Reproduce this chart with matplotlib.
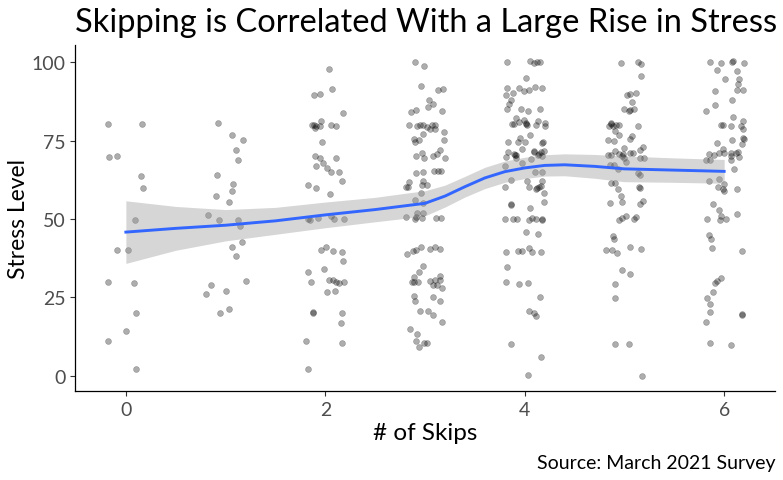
import matplotlib
matplotlib.use("Agg")
import matplotlib.pyplot as plt

plt.rcParams['font.family'] = ['Lato', 'DejaVu Sans']

# jittered points, one group per number of skips
skips0_x = [-0.177, 0.164, -0.174, -0.084, 0.147, 0.171, 0.094, -0.090, 0.020, -0.184, 0.077, 0.104, 0.003, -0.184, 0.100]
skips0_y = [80.3, 80.3, 69.9, 70.1, 63.6, 59.9, 49.8, 40.1, 40.0, 29.9, 29.4, 19.9, 14.1, 10.9, 2.0]

skips1_x = [0.926, 1.064, 1.171, 1.100, 1.120, 0.910, 1.077, 1.060, 0.903, 1.037, 0.819, 0.930,
            1.127, 1.147, 1.161, 1.060, 1.107, 1.201, 0.856, 0.803, 1.007, 1.030, 0.940]
skips1_y = [80.7, 76.9, 75.2, 72.0, 68.8, 63.9, 61.1, 58.9, 57.2, 55.3, 51.3, 49.7,
            49.7, 47.9, 42.6, 41.1, 38.3, 30.1, 28.9, 26.1, 27.0, 21.2, 19.9]

skips2_x = [2.033, 2.067, 1.886, 1.946, 2.174, 1.953, 1.863, 1.890, 1.910, 1.896, 1.950, 2.054,
            2.104, 1.963, 1.900, 1.943, 2.104, 1.973, 1.903, 2.013, 2.054, 2.134, 2.167, 1.826,
            1.910, 2.047, 1.829, 1.849, 1.930, 2.054, 2.084, 2.187, 1.960, 2.007, 2.080, 2.164,
            2.174, 1.823, 1.983, 1.853, 2.040, 2.080, 2.104, 2.134, 2.191, 2.017, 2.100, 1.873,
            1.873, 2.171, 2.161, 1.806, 2.164, 1.829]
skips2_y = [98.0, 91.5, 89.6, 90.0, 83.8, 81.2, 79.9, 79.9, 79.7, 79.2, 79.7, 80.0,
            79.7, 74.7, 70.2, 69.6, 69.6, 67.8, 66.8, 66.2, 65.1, 64.9, 62.0, 60.9,
            59.8, 58.0, 50.1, 49.8, 50.2, 50.8, 49.9, 50.1, 40.1, 41.0, 39.9, 39.6,
            36.6, 33.0, 34.0, 29.9, 30.4, 30.5, 29.9, 29.6, 30.0, 26.8, 26.9, 20.1,
            20.3, 20.1, 16.8, 11.1, 10.3, 2.1]

skips3_x = [2.900, 2.990, 2.957, 3.130, 3.184, 3.040, 3.084, 3.027, 2.856, 2.906, 3.174, 2.843,
            2.916, 2.953, 2.980, 3.023, 3.067, 3.097, 3.054, 3.104, 3.187, 2.977, 2.890, 2.900,
            2.943, 3.187, 2.913, 2.967, 2.990, 3.084, 3.120, 3.147, 3.197, 2.913, 2.983, 3.090,
            3.130, 3.164, 2.839, 2.813, 2.833, 2.980, 2.967, 3.020, 2.963, 2.903, 2.980, 2.920,
            2.980, 2.910, 2.813, 2.896, 2.970, 3.114, 3.164, 2.819, 2.883, 2.910, 2.957, 3.054,
            3.097, 3.151, 2.980, 2.936, 2.893, 2.873, 2.893, 2.926, 3.050, 3.097, 3.124, 3.080,
            3.154, 3.147, 3.171, 2.886, 2.900, 3.084, 3.151, 2.946, 3.033, 3.084, 3.171, 2.849,
            2.916, 2.910, 2.940, 2.993, 3.023]
skips3_y = [100.1, 99.0, 92.5, 91.2, 91.6, 88.0, 86.8, 85.8, 84.2, 84.7, 84.6, 79.9,
            79.7, 80.1, 80.0, 79.5, 79.9, 80.0, 78.8, 78.7, 77.8, 77.2, 75.4, 74.7,
            75.1, 75.1, 70.2, 71.2, 69.5, 70.0, 70.8, 72.1, 69.6, 64.6, 64.9, 65.2,
            65.2, 65.2, 61.9, 60.1, 60.2, 62.2, 60.8, 60.8, 58.2, 55.9, 55.1, 51.8,
            52.0, 50.6, 50.6, 50.0, 50.3, 50.2, 50.2, 38.7, 39.7, 40.0, 41.1, 40.3,
            41.1, 40.4, 35.1, 33.1, 31.4, 29.8, 29.8, 29.9, 30.1, 30.4, 28.9, 28.8,
            31.8, 30.4, 28.0, 25.5, 23.7, 25.1, 23.9, 20.5, 20.5, 19.3, 17.0, 14.9,
            13.3, 11.0, 9.2, 10.3, 10.5]

skips4_x = [3.826, 4.054, 4.094, 4.127, 4.154, 4.010, 3.823, 3.943, 3.997, 4.043, 4.104, 4.177,
            3.883, 3.816, 3.866, 3.843, 3.826, 3.963, 4.030, 4.154, 3.910, 3.997, 3.870, 3.896,
            3.943, 4.013, 4.023, 4.017, 4.117, 4.137, 4.204, 4.204, 4.057, 3.953, 3.829, 3.930,
            4.000, 4.187, 4.171, 3.970, 3.833, 3.890, 3.900, 3.910, 4.090, 4.097, 4.140, 4.167,
            4.197, 3.816, 3.910, 3.973, 4.067, 4.130, 4.174, 3.803, 4.100, 4.171, 3.866, 4.027,
            3.806, 4.047, 4.114, 4.120, 4.140, 4.167, 4.174, 4.191, 4.194, 3.863, 3.866, 4.050,
            3.806, 3.880, 3.926, 4.040, 4.077, 4.117, 4.171, 4.177, 4.017, 4.130, 3.809, 3.936,
            3.973, 4.047, 4.070, 4.164, 3.826, 3.809, 3.940, 4.037, 4.151, 4.047, 4.090, 4.110,
            3.860, 4.161, 4.033]
skips4_y = [100.0, 100.4, 99.9, 100.1, 100.2, 94.9, 91.9, 91.8, 90.8, 91.2, 92.3, 91.7,
            90.1, 89.7, 88.1, 86.8, 85.1, 85.0, 84.6, 85.1, 82.3, 81.7, 80.3, 80.3,
            81.0, 80.6, 80.0, 80.4, 80.1, 81.4, 80.8, 79.7, 76.9, 75.9, 74.6, 74.6,
            74.6, 74.7, 74.1, 72.3, 71.3, 70.7, 70.4, 70.3, 71.8, 71.5, 70.7, 71.3,
            71.8, 69.9, 69.4, 67.9, 69.2, 70.4, 70.1, 66.9, 65.0, 65.0, 62.4, 62.1,
            60.3, 60.3, 59.6, 59.9, 60.1, 60.5, 62.0, 58.2, 55.3, 54.8, 54.4, 53.6,
            50.0, 50.0, 50.1, 49.7, 50.2, 50.1, 49.8, 50.0, 45.8, 45.1, 39.6, 39.8,
            39.9, 40.6, 39.6, 39.6, 34.8, 29.8, 29.3, 29.7, 25.1, 20.5, 19.9, 18.9,
            10.0, 5.8, 0.1]

skips5_x = [4.963, 5.137, 5.167, 5.171, 5.023, 5.057, 5.120, 5.080, 5.000, 5.043, 5.060, 5.100,
            4.843, 4.863, 4.870, 4.883, 4.913, 4.946, 5.137, 4.906, 4.946, 5.080, 4.833, 4.896,
            5.060, 5.000, 5.187, 5.157, 4.906, 4.943, 4.983, 5.054, 5.090, 4.839, 4.870, 4.977,
            4.997, 5.154, 5.197, 5.020, 4.853, 4.896, 4.940, 5.134, 5.154, 4.870, 4.910, 4.936,
            5.147, 5.151, 4.967, 4.973, 4.856, 5.187, 5.154, 4.946, 4.977, 5.017, 5.094, 5.120,
            4.886, 4.893, 4.819, 4.876, 4.926, 5.057, 5.171, 4.973, 5.054, 4.906, 4.903, 4.906,
            5.050, 5.181]
skips5_y = [99.7, 100.2, 99.5, 95.5, 89.6, 90.0, 90.2, 87.5, 85.0, 84.5, 84.7, 85.0,
            79.7, 80.5, 80.2, 79.8, 79.9, 80.0, 79.8, 78.1, 76.8, 76.6, 75.3, 74.9,
            75.4, 72.8, 73.0, 71.9, 71.8, 70.9, 70.7, 71.0, 71.0, 70.5, 70.4, 70.1,
            69.6, 69.4, 69.6, 68.3, 67.2, 67.3, 65.8, 64.8, 63.9, 61.5, 61.4, 59.6,
            60.1, 59.8, 57.2, 55.3, 55.0, 55.8, 54.8, 49.7, 50.2, 50.8, 50.1, 50.5,
            44.7, 43.6, 40.0, 40.0, 39.1, 41.0, 40.4, 33.7, 32.3, 29.1, 24.6, 10.1,
            10.1, -0.1]

skips6_x = [5.860, 5.970, 6.077, 6.087, 6.197, 5.933, 6.124, 6.013, 6.144, 6.140, 6.124, 6.184,
            5.910, 6.080, 5.906, 5.813, 6.087, 6.187, 5.970, 5.993, 6.067, 6.167, 6.191, 6.184,
            6.194, 6.177, 6.077, 5.933, 5.987, 5.846, 5.900, 5.950, 6.000, 6.064, 6.064, 6.114,
            6.140, 6.144, 6.070, 5.819, 5.853, 6.094, 5.846, 5.950, 6.000, 5.940, 5.993, 6.003,
            6.130, 5.886, 5.946, 5.973, 5.963, 6.017, 5.823, 6.130, 5.846, 5.873, 5.880, 6.174,
            5.973, 5.926, 5.906, 5.886, 5.823, 5.856, 5.853, 5.813, 6.177, 6.181, 5.863, 6.070]
skips6_y = [100.1, 99.9, 100.1, 100.3, 99.9, 97.7, 97.2, 94.7, 94.7, 93.0, 91.3, 91.3,
            90.8, 88.1, 86.5, 84.6, 82.7, 81.2, 79.9, 79.9, 79.8, 79.6, 78.8, 76.0,
            75.4, 73.9, 75.1, 74.4, 72.5, 70.9, 70.4, 71.0, 71.1, 71.0, 70.1, 71.0,
            71.3, 69.9, 68.8, 68.8, 68.9, 66.1, 62.1, 62.8, 61.3, 60.2, 59.6, 59.0,
            59.7, 54.9, 52.9, 51.1, 49.8, 50.1, 50.0, 51.6, 44.9, 43.6, 40.8, 39.8,
            31.0, 30.3, 29.7, 26.8, 24.8, 22.7, 20.2, 17.0, 19.7, 19.2, 10.4, 9.9]

# loess smooth and its confidence band
smooth_x = [0.0, 0.5, 1.0, 1.5, 2.0, 2.5, 2.8, 3.0, 3.2, 3.4, 3.6, 3.8, 4.0, 4.2, 4.4, 4.7, 5.0, 5.5, 6.0]
smooth_fit = [45.8, 47.0, 48.0, 49.4, 51.3, 53.0, 54.2, 55.0, 57.3, 60.3, 63.1, 65.1, 66.3, 67.1, 67.3, 66.8, 66.0, 65.6, 65.2]
smooth_lo = [35.8, 40.0, 43.0, 45.1, 47.2, 49.1, 50.2, 51.0, 53.8, 57.0, 59.7, 61.7, 62.9, 63.7, 63.8, 63.0, 61.9, 61.7, 61.4]
smooth_hi = [55.8, 54.0, 53.0, 53.7, 55.4, 56.9, 58.2, 59.0, 60.8, 63.6, 66.5, 68.5, 69.7, 70.5, 70.8, 70.6, 70.1, 69.5, 69.0]

groups_x = [skips0_x, skips1_x, skips2_x, skips3_x, skips4_x, skips5_x, skips6_x]
groups_y = [skips0_y, skips1_y, skips2_y, skips3_y, skips4_y, skips5_y, skips6_y]

fig = plt.figure(figsize=(7.83, 4.81), dpi=100)
ax = fig.add_axes([0.0958, 0.184, 0.894, 0.72])

for gx, gy in zip(groups_x, groups_y):
    ax.scatter(gx, gy, s=18, color='black', alpha=0.32, linewidths=0.4,
               edgecolors=(0, 0, 0, 0.45), zorder=2)

ax.fill_between(smooth_x, smooth_lo, smooth_hi, color='#999999', alpha=0.4,
                linewidth=0, zorder=3)
ax.plot(smooth_x, smooth_fit, color='#3366FF', linewidth=2.1, zorder=4)

ax.set_xlim(-0.51, 6.51)
ax.set_ylim(-5.1, 105.5)
ax.set_xticks([0, 2, 4, 6])
ax.set_yticks([0, 25, 50, 75, 100])

for side in ['top', 'right']:
    ax.spines[side].set_visible(False)
for side in ['left', 'bottom']:
    ax.spines[side].set_linewidth(0.9)
ax.tick_params(axis='both', colors='#333333', labelcolor='#4D4D4D', labelsize=14,
               length=3.5, width=0.8)

ax.set_xlabel('# of Skips', fontsize=17.5, color='black', labelpad=3)
ax.set_ylabel('Stress Level', fontsize=16.5, color='black', labelpad=2)

fig.text(0.0958, 0.952, 'Skipping is Correlated With a Large Rise in Stress',
         fontsize=23.5, ha='left', va='center', color='black')
fig.text(0.99, 0.037, 'Source: March 2021 Survey', fontsize=14, ha='right',
         va='center', color='black')

fig.savefig('out.png', dpi=100)
